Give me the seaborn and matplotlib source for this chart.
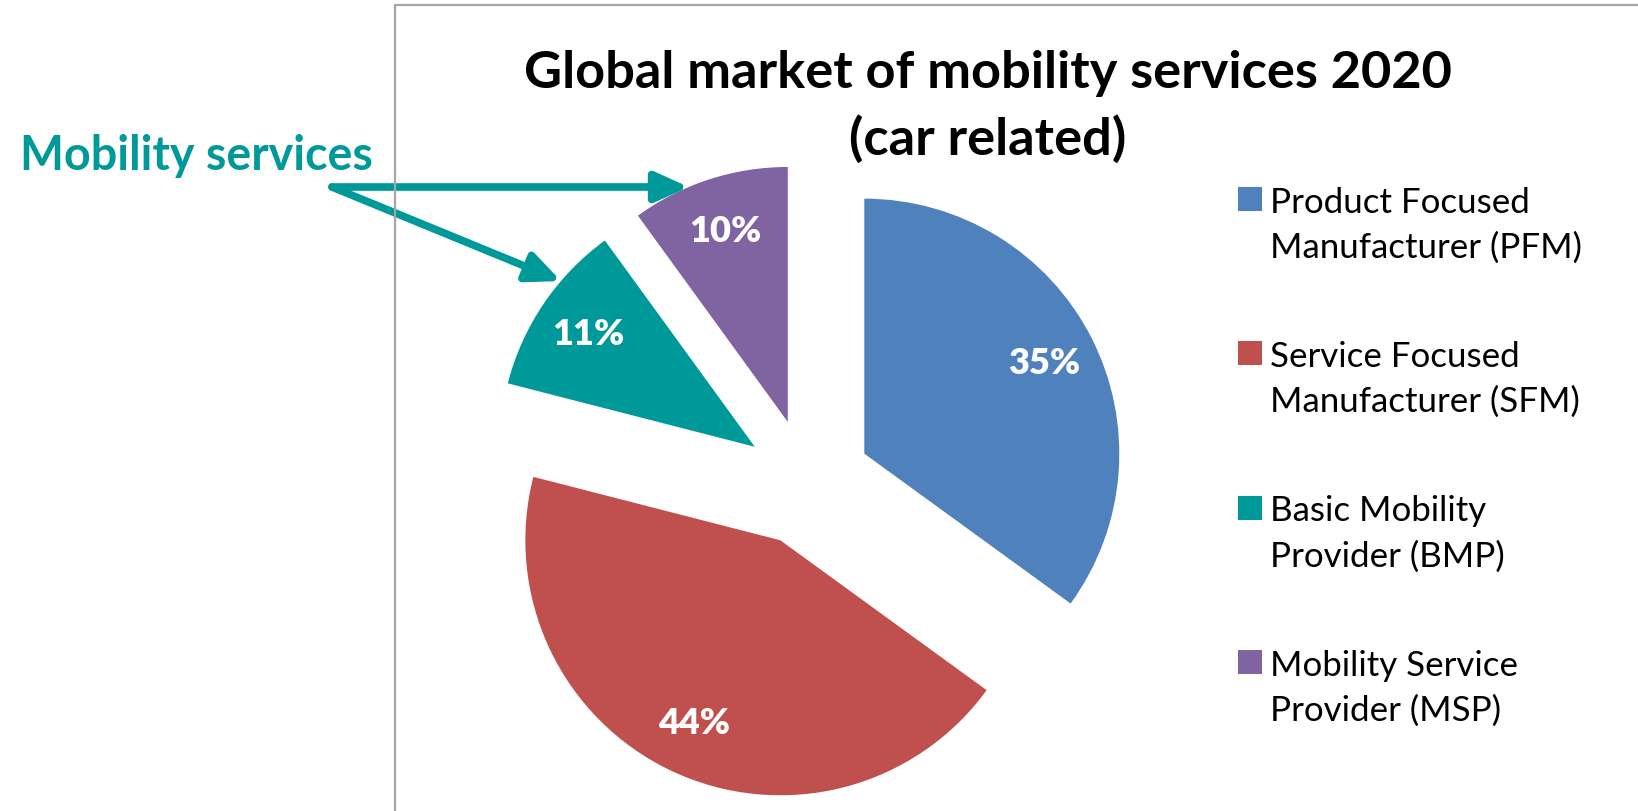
import numpy as np
import matplotlib
matplotlib.use("Agg")
import matplotlib.pyplot as plt
from matplotlib.patches import Rectangle
from matplotlib.lines import Line2D
import seaborn as sns

# ---- data -------------------------------------------------------------
categories = [
    "Product Focused\nManufacturer (PFM)",
    "Service Focused\nManufacturer (SFM)",
    "Basic Mobility\nProvider (BMP)",
    "Mobility Service\nProvider (MSP)",
]
shares = [35, 44, 11, 10]
colors = ["#4F81BD", "#C0504D", "#009999", "#8064A2"]
title_text = "Global market of mobility services 2020\n(car related)"
callout_text = "Mobility services"

# ---- style ------------------------------------------------------------
sns.set_theme(style="white")
plt.rcParams["font.family"] = ["Lato", "DejaVu Sans"]
TEAL = "#009999"

W, H, DPI = 1638, 812, 100
fig = plt.figure(figsize=(W / DPI, H / DPI), dpi=DPI, facecolor="white")


def fx(x):
    return x / W


def fy(y):
    # pixel row counted from the top edge
    return 1 - y / H


# ---- pie axes: one data unit = R_PX pixels ------------------------------
R_PX = 255
CX, CY = 807.5, 483.6
LIM = 1.5
side = 2 * LIM * R_PX
ax = fig.add_axes([fx(CX - side / 2), fy(CY + side / 2), side / W, side / H])

wedges, _, pct_texts = ax.pie(
    shares,
    colors=colors,
    startangle=90,
    counterclock=False,
    explode=[0.25] * len(shares),
    autopct=lambda p: f"{p:.0f}%",
    pctdistance=0.79,
    wedgeprops=dict(linewidth=0),
    textprops=dict(color="white", fontweight="heavy", fontsize=26),
)
ax.set_xlim(-LIM, LIM)
ax.set_ylim(-LIM, LIM)
ax.set_aspect("equal")
ax.axis("off")
for w in wedges:
    w.set_clip_on(False)

# ---- chart frame (left and top edges) ----------------------------------
fig.add_artist(Line2D([fx(395), fx(395), 1.0], [0.0, fy(6), fy(6)],
                      transform=fig.transFigure, color="#A6A6A6", lw=1.6))

renderer = fig.canvas.get_renderer()


def fit_width(t, target_px):
    w = t.get_window_extent(renderer).width
    t.set_fontsize(t.get_fontsize() * target_px / w)


# ---- title --------------------------------------------------------------
title = fig.text(fx(988), fy(107), title_text, ha="center", va="center",
                 fontweight="bold", fontsize=30, color="black", linespacing=1.44)
fit_width(title, 927)

# ---- legend ---------------------------------------------------------------
LINE_GAP = 47
ENTRY_STEP = 154.3
leg_texts = []
for i, (lab, col) in enumerate(zip(categories, colors)):
    base = 211 + i * ENTRY_STEP
    fig.add_artist(Rectangle((fx(1238), fy(base + 1)), 24 / W, 24 / H,
                             transform=fig.transFigure, facecolor=col,
                             edgecolor="none"))
    t = fig.text(fx(1270), fy(base + LINE_GAP), lab, ha="left", va="baseline",
                 fontsize=22, color="black", linespacing=1.5)
    leg_texts.append(t)
w0 = leg_texts[0].get_window_extent(renderer).width
for t in leg_texts:
    t.set_fontsize(t.get_fontsize() * 310 / w0)

# ---- call-out pointing at the two service slices --------------------------
callout = fig.text(fx(20), fy(170), callout_text, ha="left", va="baseline",
                   fontweight="bold", fontsize=26, color=TEAL)
fit_width(callout, 353)

start_fig = (fx(332), fy(188))
start_data = ax.transData.inverted().transform(
    fig.transFigure.transform(start_fig))

# MSP slice: horizontal arrow meets its outer arc
msp = wedges[3]
mcx, mcy = msp.center
theta = np.pi - np.arcsin((start_data[1] - mcy) / msp.r)
tip_msp = (mcx + msp.r * np.cos(theta), start_data[1])

# BMP slice: arrow meets its outer arc a third of the way along
bmp = wedges[2]
bcx, bcy = bmp.center
ang = np.deg2rad(bmp.theta1 + 0.34 * (bmp.theta2 - bmp.theta1))
tip_bmp = (bcx + bmp.r * np.cos(ang), bcy + bmp.r * np.sin(ang))

for tip in (tip_msp, tip_bmp):
    ax.annotate("", xy=tip, xycoords="data",
                xytext=start_fig, textcoords="figure fraction",
                arrowprops=dict(arrowstyle="-|>,head_length=1.0,head_width=0.45",
                                color=TEAL, lw=5.5, shrinkA=0, shrinkB=0,
                                mutation_scale=20),
                annotation_clip=False)

fig.savefig("out.png", dpi=DPI, facecolor="white")
